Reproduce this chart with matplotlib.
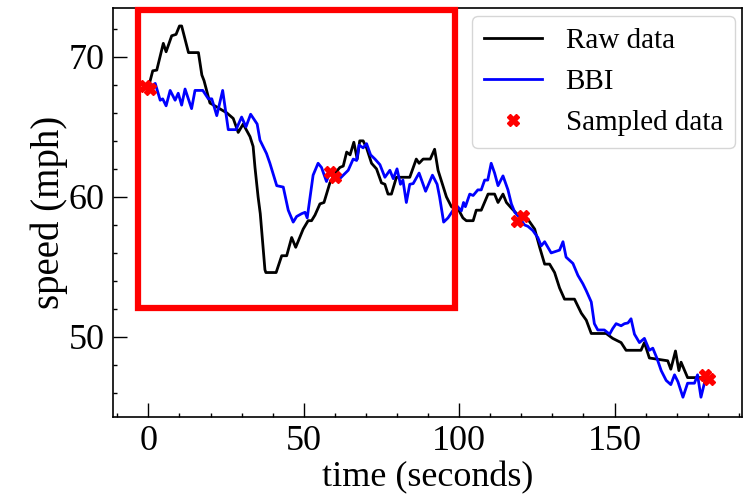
import matplotlib
matplotlib.use("Agg")
import matplotlib.pyplot as plt
from matplotlib.patches import Rectangle
from matplotlib.ticker import MultipleLocator

plt.rcParams['font.family'] = ['Liberation Serif', 'DejaVu Serif']
plt.rcParams['mathtext.fontset'] = 'stix'

raw_t = [0, 1.4, 2.7, 4.8, 5.7, 7.5, 8.9, 10, 10.7, 12.9, 16.1, 17.2, 17.9, 19.8, 20.6,
         25.2, 27.3, 28.9, 30.5, 32.7, 33.7, 34.3, 35.3, 36, 37.5, 37.8, 41.1, 42.9, 44.5,
         46.1, 47.4, 49.8, 51.4, 52.5, 53.6, 55.2, 56.5, 58.4, 60.5, 61.6, 62.7, 63.8, 64.9,
         66.1, 67.2, 68.0, 69.1, 70.2, 71.8, 73.4, 75.0, 76.1, 77.1, 78.2, 79.8, 84.1, 86.2,
         87.1, 88.4, 90.7, 92.1, 93.2, 95.9, 97.5, 100, 101.2, 102.3, 104.5, 105.5, 107.1,
         109.3, 111.4, 112.5, 114.1, 115.2, 116.8, 120, 122.1, 124.3, 125.9, 127.5, 129.1,
         130.7, 132.3, 133.9, 137.1, 139.3, 140.9, 142.5, 147.3, 149.4, 152.1, 153.7, 158.5,
         159.6, 161.2, 167.1, 168.1, 169.6, 170.7, 171.4, 173.5, 179.4]
raw_v = [67.8, 69.0, 69.05, 70.96, 70.36, 71.5, 71.6, 72.2, 72.2, 70.3, 70.3, 68.7, 68.3, 66.7, 66.6,
         66.0, 65.6, 64.6, 65.2, 64.3, 63.6, 62.1, 60.0, 58.8, 54.8, 54.6, 54.6, 55.8, 55.8,
         57.1, 56.4, 57.7, 58.3, 58.3, 58.7, 59.5, 59.6, 61.0, 61.8, 62.1, 62.2, 63.2, 63.0,
         63.9, 62.7, 64.0, 64.0, 63.5, 62.4, 62.0, 61.0, 60.9, 60.2, 60.2, 61.4, 61.4, 62.7,
         62.4, 62.7, 62.7, 63.4, 61.9, 60.0, 59.3, 59.0, 58.5, 58.3, 58.3, 59.05, 59.05,
         60.2, 60.2, 59.6, 60.2, 59.6, 59.2, 58.45, 58.4, 57.7, 56.4, 55.2, 55.2,
         54.6, 53.5, 52.7, 52.7, 51.7, 51.2, 50.25, 50.25, 49.9, 49.6, 49.05, 49.05,
         49.6, 48.5, 48.3, 47.7, 49.0, 47.6, 48.2, 47.1, 47.1]

bbi_t = [0, 2.2, 3.8, 4.6, 5.7, 7.0, 8.6, 9.6, 10.7, 11.8, 13.9, 15.0, 17.5, 19.3, 20.4,
         22.0, 23.9, 25.7, 28.2, 30.0, 31.4, 32.9, 35.0, 35.9, 38.0, 39.1, 41.3, 43.4, 45.0,
         46.6, 47.7, 49.3, 50.4, 51.1, 53.0, 54.6, 55.7, 57.3, 58.4, 60.5, 61.6, 62.7, 64.3,
         65.9, 67.0, 67.8, 69.1, 70.2, 71.5, 72.9, 74.5, 76.1, 77.7, 78.8, 80.0, 81.1, 81.9,
         83.0, 84.1, 85.2, 87.1, 89.2, 91.4, 92.9, 93.7, 95.0, 96.4, 99.1, 100.7, 101.4, 102.0,
         103.4, 104.5, 106.0, 107.1, 108.2, 109.2, 110.3, 111.4, 112.5, 114.1, 115.7, 116.8,
         117.9, 119.5, 121.0, 122.1, 123.7, 125.3, 126.4, 127.5, 129.6, 132.3, 133.4, 134.4,
         136.6, 138.2, 139.8, 140.9, 142.5, 143.5, 144.6, 146.7, 148.4, 149.4, 150.5, 152.1,
         153.2, 154.3, 155.3, 156.4, 158.0, 159.6, 161.2, 162.3, 163.6, 165.0, 166.6, 168.1,
         169.3, 170.4, 172.0, 173.5, 175.7, 176.7, 177.8, 179.4]
bbi_v = [67.8, 68.1, 66.9, 67.0, 66.5, 67.6, 66.9, 67.4, 66.55, 67.7, 66.3, 67.6, 67.6, 67.0, 67.0,
         65.8, 67.6, 64.8, 64.8, 65.7, 65.0, 65.9, 65.2, 64.05, 63.1, 62.4, 60.8, 60.7, 59.05,
         58.2, 58.6, 58.8, 58.9, 58.5, 61.55, 62.4, 62.1, 61.1, 61.8, 61.2, 61.3, 61.55, 61.9,
         62.7, 62.6, 63.7, 63.5, 63.8, 63.0, 62.7, 62.3, 61.4, 61.9, 61.3, 62.0, 60.9, 61.2,
         59.6, 60.9, 60.95, 61.7, 60.4, 61.55, 60.9, 60.0, 58.2, 58.5, 59.4, 59.0, 59.6, 59.3,
         60.2, 60.1, 60.5, 60.5, 61.2, 61.2, 62.4, 61.7, 60.8, 61.5, 60.5, 59.5,
         58.9, 58.5, 58.0, 57.9, 57.6, 57.1, 56.5, 56.8, 56.0, 56.2, 56.8, 55.7,
         55.25, 54.4, 53.8, 53.3, 52.5, 50.95, 50.5, 50.5, 50.2, 50.6, 50.95, 50.8,
         50.95, 51.0, 51.3, 50.2, 49.6, 49.9, 49.05, 49.2, 48.5, 47.6, 46.9, 46.6,
         47.3, 46.8, 45.7, 46.7, 46.7, 47.3, 45.7, 47.15]

samp_t = [-1, 0.5, 58.5, 60, 118.5, 120.5, 179, 180.5]
samp_v = [67.9, 67.7, 61.8, 61.4, 58.3, 58.6, 47.3, 47.0]

fig = plt.figure(figsize=(7.51, 4.98), dpi=100)
ax = fig.add_axes([0.150, 0.163, 0.838, 0.820])

ax.plot(raw_t, raw_v, color='black', lw=2, label='Raw data')
ax.plot(bbi_t, bbi_v, color='#0000ff', lw=2, label='BBI')
ax.plot(samp_t, samp_v, linestyle='none', marker='X', color='red', markersize=9,
        label='Sampled data')

ax.add_patch(Rectangle((-3.3, 52.05), 102.0, 21.3, fill=False, edgecolor='red',
                       lw=4.5, clip_on=False, zorder=5))

ax.set_xlim(-11.5, 191)
ax.set_ylim(44.3, 73.45)
ax.xaxis.set_major_locator(MultipleLocator(50))
ax.xaxis.set_minor_locator(MultipleLocator(10))
ax.yaxis.set_major_locator(MultipleLocator(10))
ax.yaxis.set_minor_locator(MultipleLocator(2))
ax.tick_params(which='both', direction='in', labelsize=26, width=1)
ax.tick_params(which='major', length=10, pad=6)
ax.tick_params(which='minor', length=3)
for s in ax.spines.values():
    s.set_linewidth(1.2)

ax.set_xlabel('time (seconds)', fontsize=26, labelpad=2)
ax.set_ylabel('speed (mph)', fontsize=28, labelpad=0)
ax.legend(loc='upper right', fontsize=21, numpoints=1, borderaxespad=0.25)

fig.savefig('out.png', dpi=100)
